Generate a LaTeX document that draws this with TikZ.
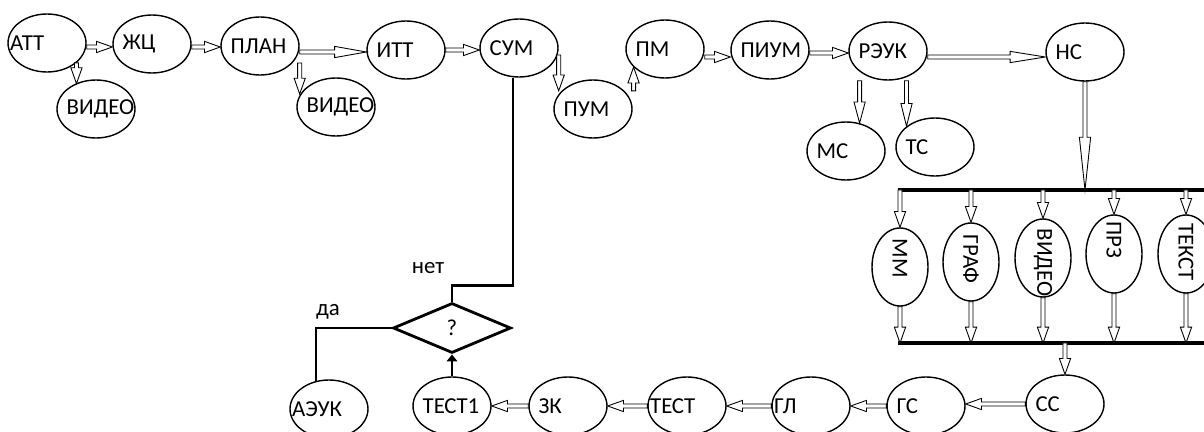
\documentclass[tikz,border=0pt]{standalone}
\usepackage{fontspec}
\setmainfont{Carlito}
\usepackage{tikz}
\usetikzlibrary{shapes.geometric,decorations.markings,arrows.meta}
\tikzset{
oval/.style = {ellipse, draw, line width=0.8pt, minimum width=1.56cm, minimum height=1.16cm, inner sep=0pt},% овал
ov/.style = {oval, label={[anchor=west, inner sep=0pt, xshift=0.2cm]west:#1}},% овал, подпись слева
ovl/.style = {oval, label={[anchor=west, inner sep=0pt, xshift=0.05cm]west:#1}},% овал, подпись у края
ovv/.style = {ellipse, draw, line width=0.8pt, minimum width=1.12cm, minimum height=1.56cm, inner sep=0pt},% стоячий овал
vt/.style = {rotate=-90, anchor=west, inner sep=0pt},% подпись сверху вниз
dmd/.style = {diamond, draw, line width=1.6pt, minimum width=2.36cm, minimum height=1cm, inner sep=0pt},% условие
blk/.style = {decorate, decoration={markings, mark=at position 0 with {
  \draw[line width=0.5pt, fill=white] (0pt,1.15pt) -- (\pgfdecoratedpathlength-#1,1.15pt)
    -- (\pgfdecoratedpathlength-#1,3.2pt) -- (\pgfdecoratedpathlength+0pt,0pt)
    -- (\pgfdecoratedpathlength-#1,-3.2pt) -- (\pgfdecoratedpathlength-#1,-1.15pt)
    -- (0pt,-1.15pt) -- cycle;}}},% полая стрелка
blk/.default = 9pt
}
\begin{document}
\begin{tikzpicture}[x=0.02cm, y=-0.02cm, font=\fontsize{13}{15}\selectfont,
  bar/.style={line width=1.8pt}, lnk/.style={line width=1.6pt}]
\useasboundingbox (0,0) rectangle (1204,432);
% верхний ряд
\node[ovl={АТТ}] (att) at (47,43) {};
\node[ov={ЖЦ}] (zhc) at (152,44) {};
\node[ov={ПЛАН}] (plan) at (260,46) {};
\node[ov={ВИДЕО}] (vid1) at (96,109) {};
\node[ov={ВИДЕО}] (vid2) at (336,107) {};
\node[ov={ИТТ}] (itt) at (406,50) {};
\node[ov={СУМ}] (sum) at (519,48) {};
\node[ov={ПУМ}] (pum) at (593,109) {};
\node[ov={ПМ}] (pm) at (665,49) {};
\node[ov={ПИУМ}] (pium) at (770,50) {};
\node[ov={РЭУК}] (reuk) at (888,51) {};
\node[ov={НС}] (ns) at (1085,52) {};
\node[ov={МС}] (ms) at (846,151) {};
\node[ov={ТС}] (ts) at (935,147) {};
\path[blk] ([yshift=-0.08cm]att.east) -- ([yshift=-0.08cm]att.east -| zhc.west);
\path[blk] (att.-34) -- (att.-34 |- vid1.129);
\path[blk] ([yshift=-0.06cm]zhc.east) -- ([yshift=-0.06cm]zhc.east -| plan.west);
\path[blk=18pt] ([yshift=-0.12cm]plan.east) -- ([yshift=-0.12cm]plan.east -| itt.west);
\path[blk] ([yshift=-0.34cm]plan.east) -- (plan.east |- vid2.160);
\path[blk] (itt.east) -- (itt.east -| sum.west);
\path[blk] ([yshift=-0.14cm]sum.east) -- (sum.east |- pum.150);
\path[blk] (pm.-150 |- pum.30) -- (pm.-150);
\path[blk] ([yshift=-0.16cm]pm.east) -- ([yshift=-0.16cm]pm.east -| pium.west);
\path[blk] ([yshift=-0.06cm]pium.east) -- ([yshift=-0.06cm]pium.east -| reuk.west);
\path[blk=20pt] ([yshift=-0.12cm]reuk.east) -- ([yshift=-0.12cm]reuk.east -| ns.west);
\path[blk=12pt] (ms.64 |- reuk.south) -- (ms.64);
\path[blk=13pt] (ts.144 |- reuk.south) -- (ts.144);
% шины
\coordinate (b1l) at (898,190); \coordinate (b1r) at (1204,190);
\coordinate (b2l) at (898,343); \coordinate (b2r) at (1204,343);
\draw[bar] (b1l) -- (b1r);
\draw[bar] (b2l) -- (b2r);
\path[blk=30pt] (ns.south) -- (ns.south |- b1l);
\node[ovv] (mm) at (900,267) {};
\node[ovv] (graf) at (971,262) {};
\node[ovv] (vid3) at (1043,258) {};
\node[ovv] (prz) at (1114,254) {};
\node[ovv] (tekst) at (1186,254) {};
\node[vt] (mm-t) at ([yshift=-0.22cm]mm.north) {ММ};
\node[vt] (graf-t) at ([yshift=-0.24cm]graf.north) {ГРАФ};
\node[vt] (vid3-t) at ([yshift=-0.2cm]vid3.north) {ВИДЕО};
\node[vt] (prz-t) at ([yshift=-0.14cm]prz.north) {ПРЗ};
\node[vt] (tekst-t) at ([yshift=-0.18cm]tekst.north) {ТЕКСТ};
\foreach \n in {mm,graf,vid3,prz,tekst}{
  \path[blk] (\n.north |- b1l) -- (\n.north);
  \path[blk] (\n.south) -- (\n.south |- b2l);
}
% нижний ряд
\node[ovl={АЭУК}] (aeuk) at (329,409) {};
\node[ov={ТЕСТ1}] (test1) at (452,406) {};
\node[ov={ЗК}] (zk) at (568,406) {};
\node[ovl={ТЕСТ}] (test) at (687,406) {};
\node[ovl={ГЛ}] (gl) at (811,406) {};
\node[ov={ГС}] (gs) at (926,406) {};
\node[ov={СС}] (ss) at (1065,404) {};
\path[blk] (ss.north |- b2l) -- (ss.north);
\path[blk] (ss.west) -- (ss.west -| gs.east);
\path[blk] (gs.west) -- (gs.west -| gl.east);
\path[blk] (gl.west) -- (gl.west -| test.east);
\path[blk] (test.west) -- (test.west -| zk.east);
\path[blk] (zk.west) -- (zk.west -| test1.east);
% проверка
\node[dmd] (q) at (452,328) {?};
\node (net) at (428,268) {нет};
\node (da) at (328,312) {да};
\draw[lnk] ([xshift=-0.12cm]sum.south) |- ([yshift=0.32cm]q.north) -- (q.north);
\draw[lnk] (q.west) -| (aeuk.115);
\draw[lnk, -{Triangle[length=4pt, width=6pt]}] (test1.north) -- (q.south);
\end{tikzpicture}
\end{document}
